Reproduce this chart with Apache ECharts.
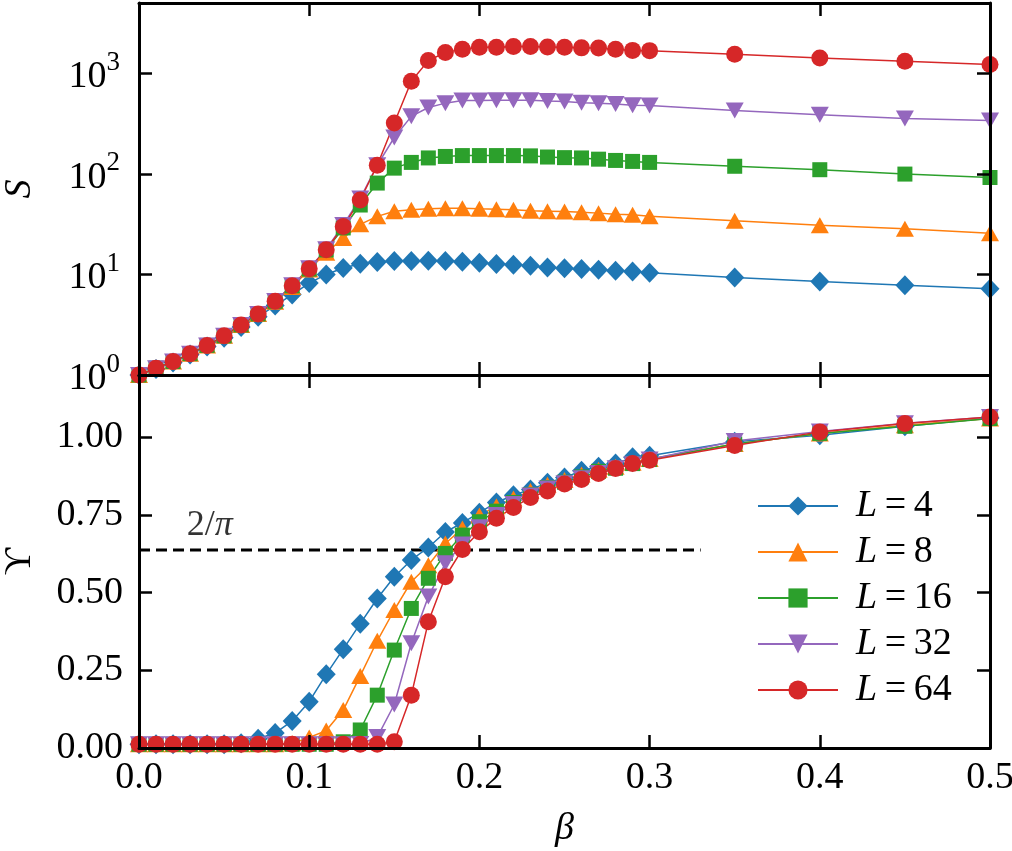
<!DOCTYPE html>
<html><head><meta charset="utf-8">
<script src="https://cdn.jsdelivr.net/npm/echarts@6/dist/echarts.min.js"></script>
<style>html,body{margin:0;padding:0;background:#fff}#c{width:1012px;height:851px}</style>
</head><body><div id="c"></div>
<script>
// ---- data ----
const beta = [0.00,0.01,0.02,0.03,0.04,0.05,0.06,0.07,0.08,0.09,
              0.10,0.11,0.12,0.13,0.14,0.15,0.16,0.17,0.18,0.19,
              0.20,0.21,0.22,0.23,0.24,0.25,0.26,0.27,0.28,0.29,0.30,
              0.35,0.40,0.45,0.50];
const seriesNames = ['L = 4','L = 8','L = 16','L = 32','L = 64'];
const S4  = [1.0,1.15,1.33,1.6,1.92,2.35,3.0,3.8,4.9,6.3, 8.2,10.0,11.6,12.8,13.3,13.6,13.6,13.7,13.6,13.4, 13.1,12.7,12.5,12.2,11.7,11.5,11.3,11.1,10.9,10.7,10.4, 9.3,8.5,7.8,7.2];
const S8  = [1.0,1.17,1.36,1.63,1.97,2.45,3.15,4.05,5.35,7.5, 11.2,16.4,23,31.5,37.8,42.4,44,45,45.6,45.6, 45,44.5,44,43,42.6,42.2,41.5,40.7,39.6,39.2,37.8, 34.2,30.8,28.5,25.7];
const S16 = [1.0,1.17,1.36,1.63,1.97,2.45,3.15,4.05,5.4,7.7, 11.3,17.5,29,49,81,114,130,144,149,152, 152,152,152,151,147,145,144,140,136,133,130, 119,110,99.5,92];
const S32 = [1.0,1.17,1.36,1.63,1.97,2.45,3.15,4.05,5.45,7.8, 11.5,17.8,31,57,122,230,373,457,505,535, 537,540,540,538,530,525,510,505,495,482,478, 427,388,355,340];
const S64 = [1.0,1.17,1.36,1.63,1.97,2.45,3.15,4.05,5.4,7.7, 11.4,17.6,30,55,122,321,832,1337,1610,1730, 1815,1815,1850,1850,1830,1815,1790,1780,1730,1690,1680, 1550,1420,1320,1220];
const Y4  = [0.012,0.012,0.012,0.012,0.012,0.012,0.015,0.03,0.048,0.087, 0.149,0.237,0.318,0.40,0.481,0.551,0.605,0.645,0.695,0.724, 0.757,0.790,0.813,0.832,0.853,0.870,0.892,0.905,0.915,0.935,0.940, 0.985,1.006,1.035,1.062];
const Y8  = [0.012,0.012,0.012,0.012,0.012,0.012,0.012,0.012,0.012,0.015, 0.034,0.056,0.122,0.232,0.345,0.444,0.535,0.588,0.658,0.706, 0.748,0.778,0.803,0.827,0.847,0.862,0.880,0.895,0.905,0.918,0.930, 0.978,1.012,1.038,1.060];
const Y16 = [0.012,0.012,0.012,0.012,0.012,0.012,0.012,0.012,0.012,0.012, 0.012,0.012,0.020,0.058,0.170,0.315,0.449,0.546,0.626,0.685, 0.728,0.762,0.790,0.815,0.838,0.855,0.872,0.890,0.900,0.915,0.928, 0.978,1.012,1.035,1.060];
const Y32 = [0.012,0.012,0.012,0.012,0.012,0.012,0.012,0.012,0.012,0.012, 0.012,0.012,0.012,0.013,0.035,0.140,0.337,0.487,0.594,0.655, 0.710,0.750,0.785,0.812,0.835,0.852,0.868,0.885,0.900,0.913,0.928, 0.988,1.018,1.045,1.065];
const Y64 = [0.012,0.012,0.012,0.012,0.012,0.012,0.012,0.012,0.012,0.012, 0.012,0.012,0.012,0.012,0.012,0.020,0.170,0.406,0.551,0.639, 0.696,0.739,0.774,0.806,0.827,0.849,0.864,0.883,0.899,0.915,0.926, 0.973,1.017,1.044,1.065];
const xTicks = [0.0,0.1,0.2,0.3,0.4,0.5];
const refValue = 2/Math.PI;      // dashed reference line 2/pi
const refRange = [0, 0.33];
const refLabelAt = [0.028, 0.715];

// ---- style ----
const FONT = 'Liberation Serif';
const colors = ['#1f77b4','#ff7f0e','#2ca02c','#9467bd','#d62728'];
const symbols = ['diamond','triangle','rect','triangle','circle'];
const symSizes = [[19,20],[18,16],[15,15],[18,16],[17,17]];
const symRot = [0,0,0,180,0];
const Sdata = [S4,S8,S16,S32,S64];
const Ydata = [Y4,Y8,Y16,Y32,Y64];

const axisLine = {show:true, onZero:false, lineStyle:{color:'#000', width:3}};
const tick = {show:true, inside:true, length:13, lineStyle:{color:'#000', width:2.5}};
const xmin = xTicks[0], xmax = xTicks[xTicks.length-1];

function xAxis(grid, pos, labels){
  const a = {type:'value', gridIndex:grid, position:pos, min:xmin, max:xmax, interval:0.1, z:5,
    axisLine, axisTick:tick, splitLine:{show:false},
    axisLabel:{show:labels, fontFamily:FONT, fontSize:38, color:'#000', margin:11,
      formatter:v=>v.toFixed(1)}};
  if (labels) { a.name='β'; a.nameLocation='middle'; a.nameGap=62;
    a.nameTextStyle={fontFamily:FONT, fontSize:38, fontStyle:'italic', color:'#000'}; }
  return a;
}

const logLabel = {show:true, fontFamily:FONT, color:'#000', margin:19, showMaxLabel:false,
  formatter: v => { const l = Math.log10(v); const e = Math.round(l);
    if (Math.abs(l-e) > 1e-6) return ''; return '{b|10}{s|'+e+'}'; },
  rich:{ b:{fontFamily:FONT, fontSize:38, color:'#000', padding:[8,0,0,0]},
         s:{fontFamily:FONT, fontSize:27, color:'#000', padding:[0,0,21,0]} } };

const option = {
  animation:false,
  backgroundColor:'#fff',
  grid:[{left:139, width:851, top:3, height:372, containLabel:false, outerBoundsMode:'none'},
        {left:139, width:851, top:375, height:373, containLabel:false, outerBoundsMode:'none'}],
  xAxis:[xAxis(0,'bottom',false), xAxis(0,'top',false), xAxis(1,'bottom',true), xAxis(1,'top',false)],
  yAxis:[
    {type:'log', logBase:10, gridIndex:0, position:'left', min:1, max:5000, z:5,
     axisLine, axisTick:tick, splitLine:{show:false}, minorTick:{show:false}, axisLabel:logLabel,
     name:'S', nameLocation:'middle', nameGap:100,
     nameTextStyle:{fontFamily:FONT, fontSize:38, fontStyle:'italic', color:'#000'}},
    {type:'log', logBase:10, gridIndex:0, position:'right', min:1, max:5000, z:5,
     axisLine, axisTick:tick, splitLine:{show:false}, axisLabel:{show:false}},
    {type:'value', gridIndex:1, position:'left', min:0, max:1.2, interval:0.25, z:5,
     axisLine, axisTick:tick, splitLine:{show:false},
     axisLabel:{fontFamily:FONT, fontSize:38, color:'#000', margin:16, showMaxLabel:false,
       formatter:v=>v.toFixed(2)},
     name:'ϒ', nameLocation:'middle', nameGap:100,
     nameTextStyle:{fontFamily:FONT, fontSize:38, color:'#000'}},
    {type:'value', gridIndex:1, position:'right', min:0, max:1.2, interval:0.25, z:5,
     axisLine, axisTick:tick, splitLine:{show:false}, axisLabel:{show:false}}
  ],
  legend:{
    data:seriesNames, orient:'vertical', left:757, top:483, padding:0, itemGap:0,
    itemWidth:80, itemHeight:24,
    formatter: n => '{i|L}{n|\u2009=\u2009' + n.slice(4) + '}',
    textStyle:{fontFamily:FONT, fontSize:38, color:'#000', lineHeight:46,
      rich:{ i:{fontFamily:FONT, fontSize:38, fontStyle:'italic', color:'#000', padding:[0,0,0,13], lineHeight:46},
             n:{fontFamily:FONT, fontSize:38, color:'#000', lineHeight:46} } }
  },
  series:[]
};

for (let k=0;k<5;k++){
  option.series.push({type:'line', name:seriesNames[k], xAxisIndex:0, yAxisIndex:0,
    data: beta.map((b,i)=>[b, Sdata[k][i]]),
    symbol:symbols[k], symbolSize:symSizes[k], symbolRotate:symRot[k], showAllSymbol:true,
    color:colors[k], lineStyle:{width:1.5, color:colors[k]}, itemStyle:{color:colors[k]}, z:2});
}
for (let k=0;k<5;k++){
  option.series.push({type:'line', name:seriesNames[k], xAxisIndex:2, yAxisIndex:2,
    data: beta.map((b,i)=>[b, Ydata[k][i]]),
    symbol:symbols[k], symbolSize:symSizes[k], symbolRotate:symRot[k], showAllSymbol:true,
    color:colors[k], lineStyle:{width:1.5, color:colors[k]}, itemStyle:{color:colors[k]}, z:2});
}
option.series.push({type:'line', name:'ref', xAxisIndex:2, yAxisIndex:2, symbol:'none',
  data: refRange.map(x=>[x, refValue]), z:1,
  lineStyle:{color:'#000', width:3, type:[11,6]}});
option.series.push({type:'scatter', name:'refLabel', xAxisIndex:2, yAxisIndex:2, symbolSize:0,
  data:[refLabelAt], z:3,
  label:{show:true, position:'right', distance:0, formatter:'{a|2/}{b|π}',
    rich:{a:{fontFamily:FONT, fontSize:36, color:'#000'}, b:{fontFamily:FONT, fontSize:36, fontStyle:'italic', color:'#000'}}}});

const chart = echarts.init(document.getElementById('c'));
chart.setOption(option);
</script></body></html>
